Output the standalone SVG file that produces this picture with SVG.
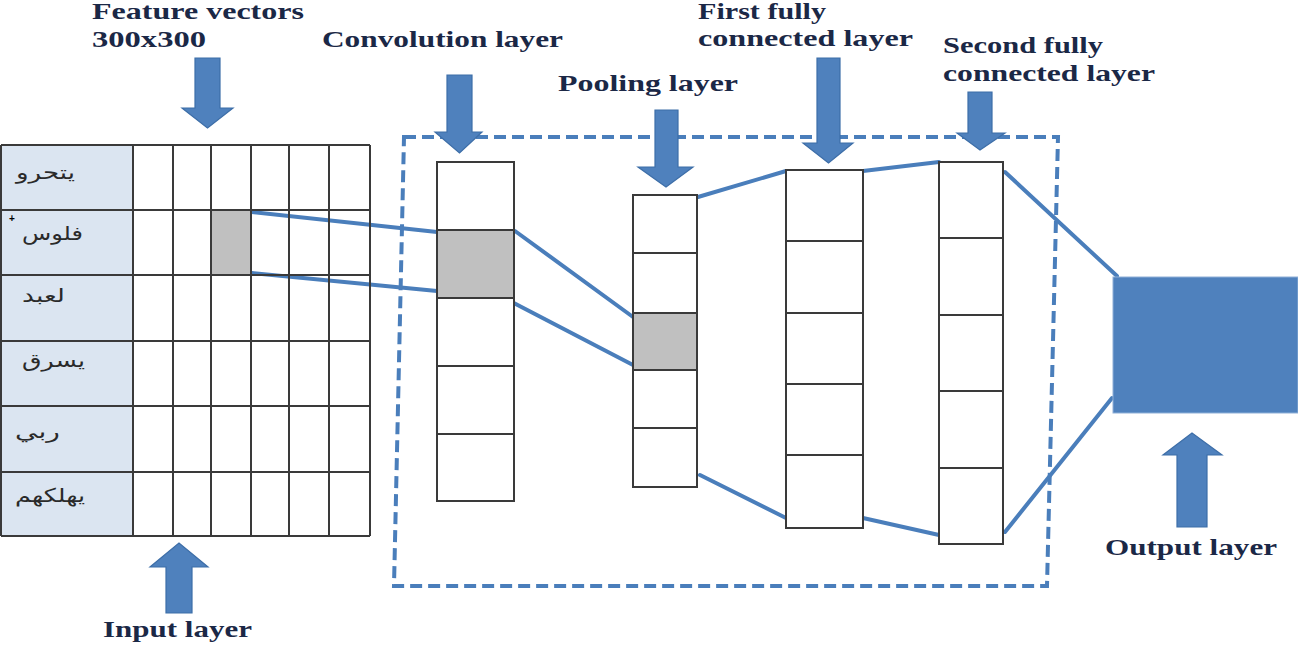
<svg xmlns="http://www.w3.org/2000/svg" width="1298" height="647" viewBox="0 0 1298 647">
<style>
.lbl{font-family:"Liberation Serif","Times New Roman",serif;font-weight:bold;font-size:23px;fill:#1b2846}
.ar{font-family:"DejaVu Sans",sans-serif;font-size:19px;fill:#2a2a2a}
.cell{fill:#ffffff;stroke:#3a3a3a;stroke-width:2}
.hot{fill:#c0c0c0;stroke:#3a3a3a;stroke-width:2}
.arrow{fill:#4f81bd;stroke:#3d6ea8;stroke-width:1.2}
.conn{stroke:#4a7ebb;stroke-width:4;fill:none;stroke-linecap:round}
.grid{stroke:#3a3a3a;stroke-width:2;fill:none}
</style>
<rect width="1298" height="647" fill="#ffffff"/>

<!-- dashed enclosure -->
<g id="cnn-box">
<path d="M404,137 L1058,137 L1047,586 L394,586 Z" fill="none" stroke="#4a7ebb" stroke-width="4" stroke-dasharray="12 6"/>
</g>

<!-- connectors -->
<g id="connectors">
<line class="conn" x1="252" y1="212" x2="437" y2="232"/>
<line class="conn" x1="252" y1="273" x2="437" y2="291"/>
<line class="conn" x1="515" y1="231" x2="633" y2="317"/>
<line class="conn" x1="504" y1="298" x2="633" y2="365"/>
<line class="conn" x1="698" y1="197" x2="786" y2="171"/>
<line class="conn" x1="863" y1="171" x2="939" y2="162"/>
<line class="conn" x1="1005" y1="172" x2="1117" y2="276"/>
<line class="conn" x1="700" y1="475" x2="786" y2="518"/>
<line class="conn" x1="863" y1="518" x2="939" y2="535"/>
<line class="conn" x1="1005" y1="532" x2="1112" y2="398"/>
</g>

<!-- input layer grid -->
<g id="input-layer">
<rect x="1" y="145" width="132" height="391" fill="#dbe5f1"/>
<rect x="211" y="210" width="40" height="64" fill="#c0c0c0"/>
<path class="grid" d="M1,145 V536 M133,145 V536 M173,145 V536 M211,145 V536 M251,145 V536 M289,145 V536 M329,145 V536 M370,145 V536"/>
<path class="grid" d="M1,145 H370 M1,210 H370 M1,275 H370 M1,341 H370 M1,406 H370 M1,472 H370 M1,536 H370"/>
<text class="ar" x="16" y="179" textLength="59" lengthAdjust="spacingAndGlyphs">يتحرو</text>
<text class="ar" x="22" y="240" textLength="61" lengthAdjust="spacingAndGlyphs">فلوس</text>
<text class="ar" x="22" y="302" textLength="43" lengthAdjust="spacingAndGlyphs">لعبد</text>
<text class="ar" x="22" y="367" textLength="63" lengthAdjust="spacingAndGlyphs">يسرق</text>
<text class="ar" x="15" y="438" textLength="45" lengthAdjust="spacingAndGlyphs">ربي</text>
<text class="ar" x="15" y="502" textLength="70" lengthAdjust="spacingAndGlyphs">يهلكهم</text>
<text x="9" y="222" font-family="Liberation Sans,sans-serif" font-weight="bold" font-size="10" fill="#000">+</text>
</g>

<!-- convolution layer -->
<g id="conv-layer">
<rect class="cell" x="437" y="162" width="77" height="68"/>
<rect class="hot" x="437" y="230" width="77" height="68"/>
<rect class="cell" x="437" y="298" width="77" height="68"/>
<rect class="cell" x="437" y="366" width="77" height="68"/>
<rect class="cell" x="437" y="434" width="77" height="67"/>
</g>

<!-- pooling layer -->
<g id="pool-layer">
<rect class="cell" x="633" y="195" width="64" height="58"/>
<rect class="cell" x="633" y="253" width="64" height="60"/>
<rect class="hot" x="633" y="313" width="64" height="57"/>
<rect class="cell" x="633" y="370" width="64" height="58"/>
<rect class="cell" x="633" y="428" width="64" height="59"/>
</g>

<!-- first fully connected -->
<g id="fc1-layer">
<rect class="cell" x="786" y="170" width="77" height="71"/>
<rect class="cell" x="786" y="241" width="77" height="72"/>
<rect class="cell" x="786" y="313" width="77" height="71"/>
<rect class="cell" x="786" y="384" width="77" height="71"/>
<rect class="cell" x="786" y="455" width="77" height="73"/>
</g>

<!-- second fully connected -->
<g id="fc2-layer">
<rect class="cell" x="939" y="162" width="64" height="76"/>
<rect class="cell" x="939" y="238" width="64" height="77"/>
<rect class="cell" x="939" y="315" width="64" height="76"/>
<rect class="cell" x="939" y="391" width="64" height="77"/>
<rect class="cell" x="939" y="468" width="64" height="76"/>
</g>

<!-- output -->
<g id="output-layer">
<rect x="1113" y="277" width="185" height="136" fill="#4f81bd" stroke="#8fb0d8" stroke-width="1"/>
</g>

<!-- arrows -->
<g id="arrow-feature"><polygon class="arrow" points="195,58 220,58 220,108 233,108 207.5,128 182,108 195,108"/></g>
<g id="arrow-conv"><polygon class="arrow" points="447,75 472,75 472,132 482,132 459.5,153 435,132 447,132"/></g>
<g id="arrow-pool"><polygon class="arrow" points="655,110 678,110 678,167 693,167 666,187 638,167 655,167"/></g>
<g id="arrow-fc1"><polygon class="arrow" points="817,58 840,58 840,143 853,143 828.5,163 803,143 817,143"/></g>
<g id="arrow-fc2"><polygon class="arrow" points="968,92 992,92 992,133 1005,133 980,150 957,133 968,133"/></g>
<g id="arrow-input"><polygon class="arrow" points="166,613 192,613 192,567 208,567 179,543 150,567 166,567"/></g>
<g id="arrow-output"><polygon class="arrow" points="1177,527 1207,527 1207,455 1222,455 1192,433 1163,455 1177,455"/></g>

<!-- labels -->
<g id="labels">
<text class="lbl" x="92" y="19" textLength="212" lengthAdjust="spacingAndGlyphs">Feature vectors</text>
<text class="lbl" x="92" y="47" textLength="114" lengthAdjust="spacingAndGlyphs">300x300</text>
<text class="lbl" x="322" y="47" textLength="241" lengthAdjust="spacingAndGlyphs">Convolution layer</text>
<text class="lbl" x="558" y="91" textLength="180" lengthAdjust="spacingAndGlyphs">Pooling layer</text>
<text class="lbl" x="698" y="19" textLength="128" lengthAdjust="spacingAndGlyphs">First fully</text>
<text class="lbl" x="698" y="46" textLength="215" lengthAdjust="spacingAndGlyphs">connected layer</text>
<text class="lbl" x="943" y="53" textLength="160" lengthAdjust="spacingAndGlyphs">Second fully</text>
<text class="lbl" x="943" y="81" textLength="212" lengthAdjust="spacingAndGlyphs">connected layer</text>
<text class="lbl" x="103" y="637" textLength="149" lengthAdjust="spacingAndGlyphs">Input layer</text>
<text class="lbl" x="1105" y="555" textLength="172" lengthAdjust="spacingAndGlyphs">Output layer</text>
</g>
</svg>
